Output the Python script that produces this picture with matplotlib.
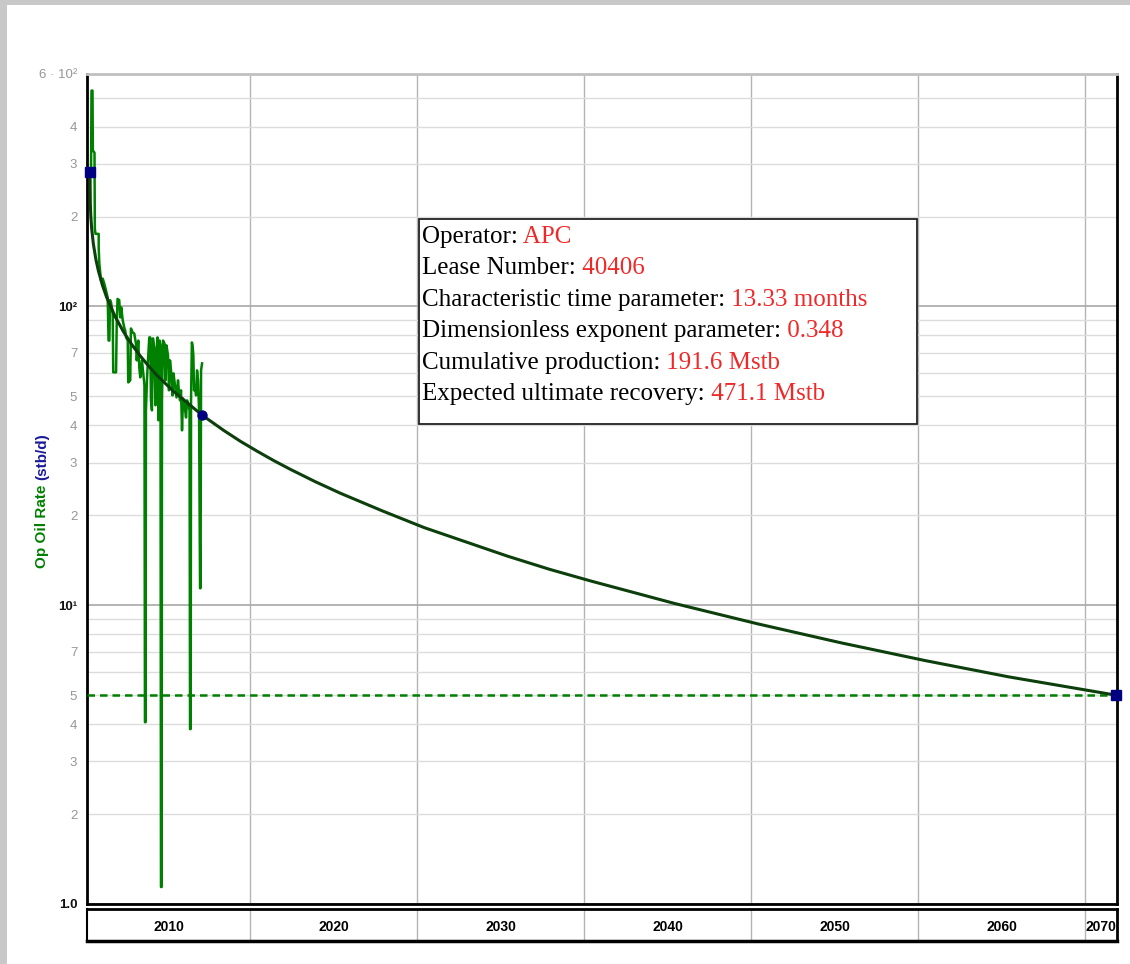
import matplotlib
matplotlib.use('Agg')
import matplotlib.pyplot as plt
from matplotlib.patches import Rectangle
from matplotlib.ticker import NullLocator

plt.rcParams['font.family'] = ['Liberation Sans', 'DejaVu Sans']

# production history (decimal year, stb/d)
hist_years = [2010.48, 2010.51, 2010.57, 2010.59, 2010.69, 2010.71, 2010.75, 2010.94, 2010.94, 2010.98,
              2011.08, 2011.18, 2011.28, 2011.38, 2011.48, 2011.53, 2011.58, 2011.62, 2011.68, 2011.78,
              2011.81, 2011.98, 2012.02, 2012.07, 2012.17, 2012.23, 2012.29, 2012.38, 2012.47, 2012.53,
              2012.58, 2012.68, 2012.71, 2012.83, 2012.87, 2012.98, 2013.07, 2013.17, 2013.22, 2013.31,
              2013.37, 2013.43, 2013.53, 2013.61, 2013.68, 2013.71, 2013.75, 2013.77, 2013.83, 2013.89,
              2013.97, 2014.03, 2014.07, 2014.13, 2014.19, 2014.28, 2014.34, 2014.40, 2014.46, 2014.52,
              2014.58, 2014.64, 2014.67, 2014.71, 2014.73, 2014.79, 2014.88, 2014.94, 2015.00, 2015.09,
              2015.15, 2015.21, 2015.30, 2015.36, 2015.42, 2015.51, 2015.60, 2015.69, 2015.75, 2015.81,
              2015.87, 2015.93, 2015.99, 2016.08, 2016.17, 2016.23, 2016.32, 2016.38, 2016.41, 2016.45,
              2016.47, 2016.52, 2016.56, 2016.61, 2016.65, 2016.71, 2016.77, 2016.83, 2016.89, 2016.95,
              2017.01, 2017.04, 2017.07, 2017.13]
hist_rates = [274, 528, 528, 333, 327, 182, 175, 175, 157, 139,
              122, 124, 119, 113, 107, 76.9, 76.9, 105, 103, 94.8,
              60.2, 60.2, 87.7, 106, 105, 91.9, 99.3, 89.8, 85.1, 83.1,
              78.8, 76.9, 55.7, 56.6, 84.4, 81.8, 81.2, 75.2, 66.0, 76.9,
              62.5, 57.9, 66.0, 59.7, 54.4, 4.06, 4.06, 44.9, 56.6, 66.0,
              78.8, 78.8, 48.5, 44.9, 78.2, 71.2, 46.7, 71.2, 78.8, 41.6,
              76.9, 74.1, 1.14, 1.14, 48.5, 76.9, 75.2, 56.6, 74.1, 68.6,
              52.4, 66.0, 58.8, 50.4, 59.7, 54.4, 49.6, 56.6, 51.6, 48.5,
              52.4, 38.5, 49.2, 46.7, 42.5, 48.5, 46.7, 44.9, 3.85, 3.85,
              48.5, 75.8, 74.1, 68.6, 52.4, 54.4, 50.4, 61.1, 56.6, 44.9,
              11.4, 11.4, 61.1, 64.5]

# forecast curve
fc_years = [2010.42, 2010.44, 2010.47, 2010.52, 2010.62, 2010.77, 2010.92, 2011.17, 2011.42, 2011.92,
            2012.42, 2012.92, 2013.42, 2013.92, 2014.42, 2015.42, 2017.13, 2018.42, 2019.42, 2020.42,
            2021.42, 2022.42, 2023.92, 2025.42, 2027.92, 2030.42, 2032.92, 2035.42, 2037.92, 2040.42,
            2045.42, 2050.42, 2055.42, 2060.42, 2065.42, 2071.86]
fc_rates = [281, 219.5, 200, 182.3, 162.1, 143.9, 131.8, 117.5, 107.2, 92.6,
            82.4, 74.6, 68.4, 63.3, 58.9, 52.0, 43.3, 38.5, 35.4, 32.8,
            30.5, 28.5, 25.9, 23.7, 20.7, 18.2, 16.3, 14.6, 13.2, 12.05,
            10.14, 8.66, 7.48, 6.53, 5.76, 5.0]

econ_limit = 5.0
start_pt = (2010.42, 281)
match_pt = (2017.13, 43.3)
end_pt = (2071.86, 5.0)

decades = [2010, 2020, 2030, 2040, 2050, 2060, 2070]
x_min, x_max = 2010.24, 2071.92

info_labels = ["Operator:", "Lease Number:", "Characteristic time parameter:",
               "Dimensionless exponent parameter:", "Cumulative production:",
               "Expected ultimate recovery:"]
info_values = ["APC", "40406", "13.33 months", "0.348", "191.6 Mstb", "471.1 Mstb"]

major_y = [1, 10, 100]
major_y_labels = ["1.0", "10¹", "10²"]
minor_y = [2, 3, 4, 5, 6, 7, 8, 9, 20, 30, 40, 50, 60, 70, 80, 90, 200, 300, 400, 500, 600]
minor_y_labels = ["2", "3", "4", "5", "", "7", "", "",
                  "2", "3", "4", "5", "", "7", "", "",
                  "2", "3", "4", "", "6 · 10²"]

fig = plt.figure(figsize=(11.3, 9.64), dpi=100)

# grey window border
fig.patches.append(Rectangle((0, 1 - 5/964), 1, 5/964, transform=fig.transFigure,
                             fc='#c8c8c8', ec='none'))
fig.patches.append(Rectangle((0, 0), 7/1130, 1, transform=fig.transFigure,
                             fc='#c8c8c8', ec='none'))

ax = fig.add_axes([87/1130, 60/964, 1030/1130, 830/964])
ax.set_yscale('log')
ax.set_xlim(x_min, x_max)
ax.set_ylim(1, 600)

ax.plot(hist_years, hist_rates, color='#008000', lw=1.8, zorder=3)
ax.plot(fc_years, fc_rates, color='#0c3f0c', lw=2.2, zorder=4)
ax.axhline(econ_limit, color='#008000', lw=1.8, ls=(0, (3, 2)), zorder=3)
ax.plot(*start_pt, 's', color='#000080', ms=6.5, zorder=5, clip_on=False)
ax.plot(*match_pt, 'o', color='#000080', ms=6.5, zorder=5)
ax.plot(*end_pt, 's', color='#000080', ms=6.5, zorder=5, clip_on=False)

# y ticks
ax.set_yticks(major_y, major_y_labels)
ax.set_yticks(minor_y, minor_y_labels, minor=True)
ax.tick_params(axis='y', which='both', length=0, pad=7)
for lab in ax.get_yticklabels():
    lab.set_fontweight('bold')
    lab.set_fontsize(9.5)
    lab.set_color('#111111')
for lab in ax.get_yticklabels(minor=True):
    lab.set_fontsize(9.5)
    lab.set_color('#969696')

ax.set_xticks(decades[1:])
ax.xaxis.set_minor_locator(NullLocator())
ax.tick_params(axis='x', length=0, labelbottom=False)

ax.grid(which='minor', axis='y', color='#dcdcdc', lw=1)
ax.grid(which='major', axis='y', color='#a8a8a8', lw=1.2)
ax.grid(which='major', axis='x', color='#b4b4b4', lw=1)
ax.set_axisbelow(True)

for s in ['left', 'bottom', 'right']:
    ax.spines[s].set_color('black')
    ax.spines[s].set_linewidth(2)
ax.spines['top'].set_color('#c0c0c0')
ax.spines['top'].set_linewidth(2)

# info box
ax.add_patch(Rectangle((0.3223, 0.5783), 0.4835, 0.247, transform=ax.transAxes,
                       fc='white', ec='#222222', lw=1.3, zorder=6))
line_y = [0.7964, 0.7586, 0.7207, 0.6829, 0.6451, 0.6072]
for lbl, val, yy in zip(info_labels, info_values, line_y):
    t = ax.text(0.3252, yy, lbl, transform=ax.transAxes, family='Liberation Serif',
                fontsize=18, color='black', va='baseline', ha='left', zorder=7)
    ax.annotate(' ' + val, xy=(1, 0), xycoords=t, va='bottom', ha='left',
                family='Liberation Serif', fontsize=18, color='#f02828', zorder=7)

# y axis title in two colours
t1 = fig.text(42/1130, (964 - 568)/964, 'Op Oil Rate', rotation=90, color='#008000',
              fontweight='bold', fontsize=11, va='bottom', ha='center')
ax.annotate('(stb/d)', xy=(0.5, 1), xycoords=t1, xytext=(0, 3), textcoords='offset points',
            rotation=90, va='bottom', ha='center', color='#1a1a9a', fontweight='bold',
            fontsize=11, annotation_clip=False)

# separate year band under the plot
bx = fig.add_axes([87/1130, 23/964, 1030/1130, 32/964])
bx.set_xlim(x_min, x_max)
bx.set_ylim(0, 1)
bx.set_xticks([])
bx.set_yticks([])
for d in decades[1:]:
    bx.axvline(d, color='#b4b4b4', lw=1)
for d in decades:
    lo, hi = max(d, x_min), min(d + 10, x_max)
    bx.text((lo + hi) / 2, 0.45, str(d), ha='center', va='center', fontweight='bold',
            fontsize=10, family=['Liberation Sans Narrow', 'Liberation Sans'])
bx.spines['top'].set_linewidth(2)
bx.spines['bottom'].set_linewidth(2.5)
bx.spines['left'].set_linewidth(1.5)
bx.spines['right'].set_linewidth(2)

fig.savefig('out.png', dpi=100)
